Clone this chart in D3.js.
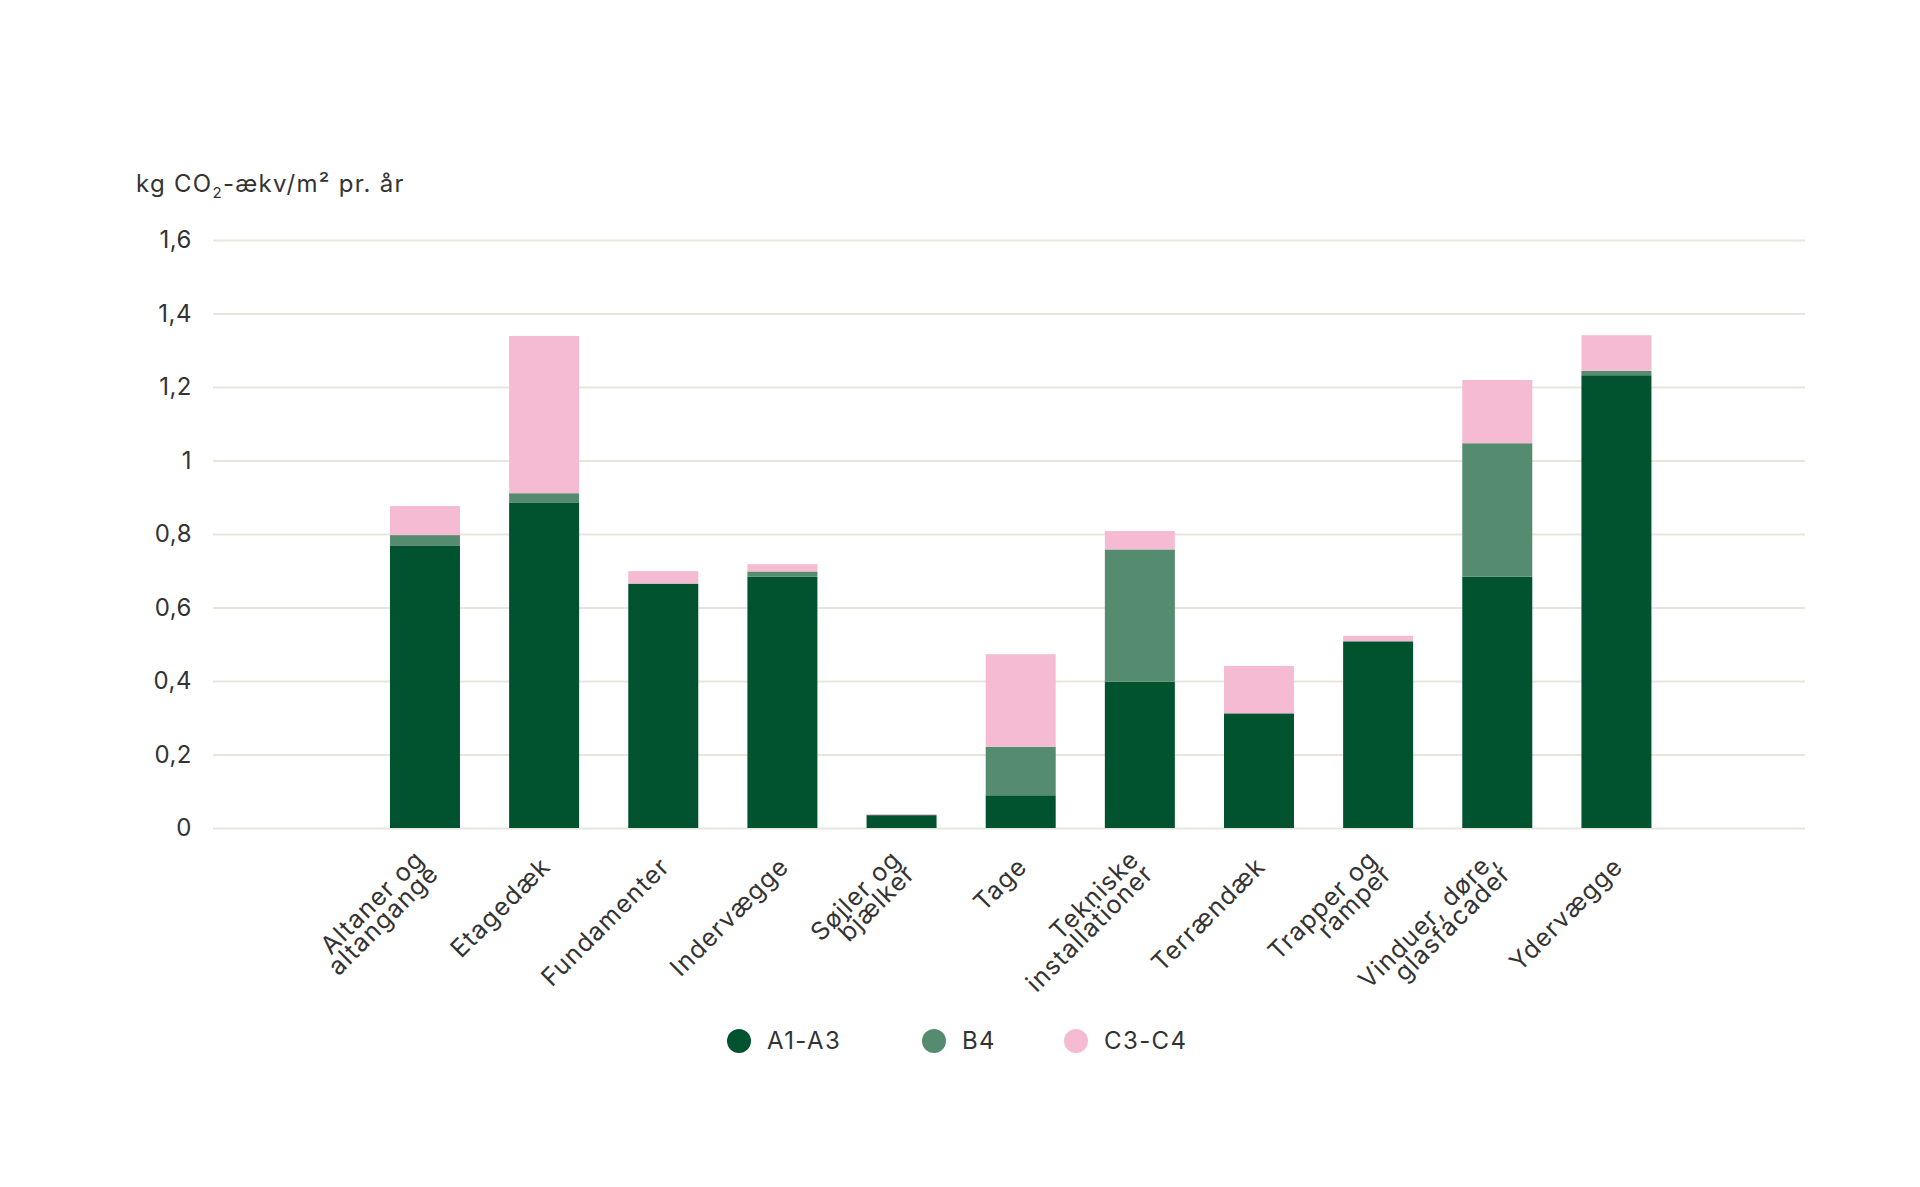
<!DOCTYPE html>
<html>
<head>
<meta charset="utf-8">
<script src="https://cdn.jsdelivr.net/npm/d3@7"></script>
<style>
  html, body { margin: 0; padding: 0; background: #ffffff; }
  svg { display: block; }
  text { font-family: Inter, "Open Sans", sans-serif; fill: #333333; }
</style>
</head>
<body>
<svg id="chart" width="1920" height="1187"></svg>
<script>
// ---- data ----
const categories = [
  "Altaner og\naltangange", "Etagedæk", "Fundamenter", "Indervægge",
  "Søjler og\nbjælker", "Tage", "Tekniske\ninstallationer", "Terrændæk",
  "Trapper og\nramper", "Vinduer, døre,\nglasfacader", "Ydervægge"
];
const seriesNames = ["A1-A3", "B4", "C3-C4"];
const a1a3 = [0.769, 0.886, 0.665, 0.684, 0.035, 0.089, 0.398, 0.312, 0.508, 0.684, 1.232];
const b4   = [0.028, 0.025, 0.000, 0.014, 0.000, 0.132, 0.360, 0.000, 0.000, 0.363, 0.012];
const c3c4 = [0.079, 0.428, 0.034, 0.020, 0.003, 0.252, 0.050, 0.129, 0.015, 0.172, 0.097];
const yTicks = [0, 0.2, 0.4, 0.6, 0.8, 1.0, 1.2, 1.4, 1.6];
const seriesColors = ["#01532f", "#558b6e", "#f5bbd2"];

// ---- build table ----
const table = categories.map((c, i) => ({ cat: c, "A1-A3": a1a3[i], "B4": b4[i], "C3-C4": c3c4[i] }));
const stacked = d3.stack().keys(seriesNames)(table);

const svg = d3.select("#chart");

const x = d3.scaleBand()
  .domain(categories)
  .range([365.4, 1676])
  .paddingInner(0.4125)
  .paddingOuter(0.20625);

const y = d3.scaleLinear().domain([0, 1.6]).range([828, 240]);

const color = d3.scaleOrdinal().domain(seriesNames).range(seriesColors);

// gridlines + y labels
const gridLeft = 213, gridRight = 1805;
const yAxis = d3.axisLeft(y)
  .tickValues(yTicks)
  .tickSize(-(gridRight - gridLeft))
  .tickPadding(21)
  .tickFormat(d => d3.format("~g")(d).replace(".", ","));

const gy = svg.append("g")
  .attr("transform", `translate(${gridLeft},0)`)
  .call(yAxis);
gy.select(".domain").remove();
gy.selectAll(".tick line").attr("stroke", "#e8e5dc").attr("stroke-width", 2);
gy.selectAll(".tick text")
  .style("font-size", "24px")
  .style("letter-spacing", "0.5px")
  .style("font-family", "Inter, sans-serif")
  .attr("fill", "#333333");

// y title
const title = svg.append("text")
  .attr("x", 136).attr("y", 192)
  .style("font-size", "24px")
  .style("letter-spacing", "1.3px");
title.append("tspan").text("kg CO");
title.append("tspan").attr("dy", 6).style("font-size", "15px").text("2");
title.append("tspan").attr("dy", -6).text("-ækv/m² pr. år");

// bars
svg.append("g").selectAll("g")
  .data(stacked)
  .join("g")
  .attr("fill", d => color(d.key))
  .selectAll("rect")
  .data(d => d)
  .join("rect")
  .attr("x", d => x(d.data.cat))
  .attr("width", x.bandwidth())
  .attr("y", d => y(d[1]))
  .attr("height", d => Math.max(0, y(d[0]) - y(d[1])));

// x labels
const lh = 20;
const xl = svg.append("g");
categories.forEach(c => {
  const lines = c.split("\n");
  const cx = x(c) + x.bandwidth() / 2 + 8;
  const cy = 868;
  const t = xl.append("text")
    .attr("transform", `translate(${cx},${cy}) rotate(-45)`)
    .attr("text-anchor", "end")
    .style("font-size", "25px")
    .style("letter-spacing", "1.2px");
  lines.forEach((ln, i) => {
    t.append("tspan")
      .attr("x", 0)
      .attr("y", (i - (lines.length - 1) / 2) * lh)
      .text(ln);
  });
});

// legend
const legendX = [739, 934, 1076];
const lg = svg.append("g");
seriesNames.forEach((s, i) => {
  lg.append("circle").attr("cx", legendX[i]).attr("cy", 1041).attr("r", 12).attr("fill", color(s));
  lg.append("text").attr("x", legendX[i] + 28).attr("y", 1041)
    .attr("dy", "0.35em")
    .style("font-size", "24px")
    .style("letter-spacing", "1.4px")
    .text(s);
});
</script>
</body>
</html>
